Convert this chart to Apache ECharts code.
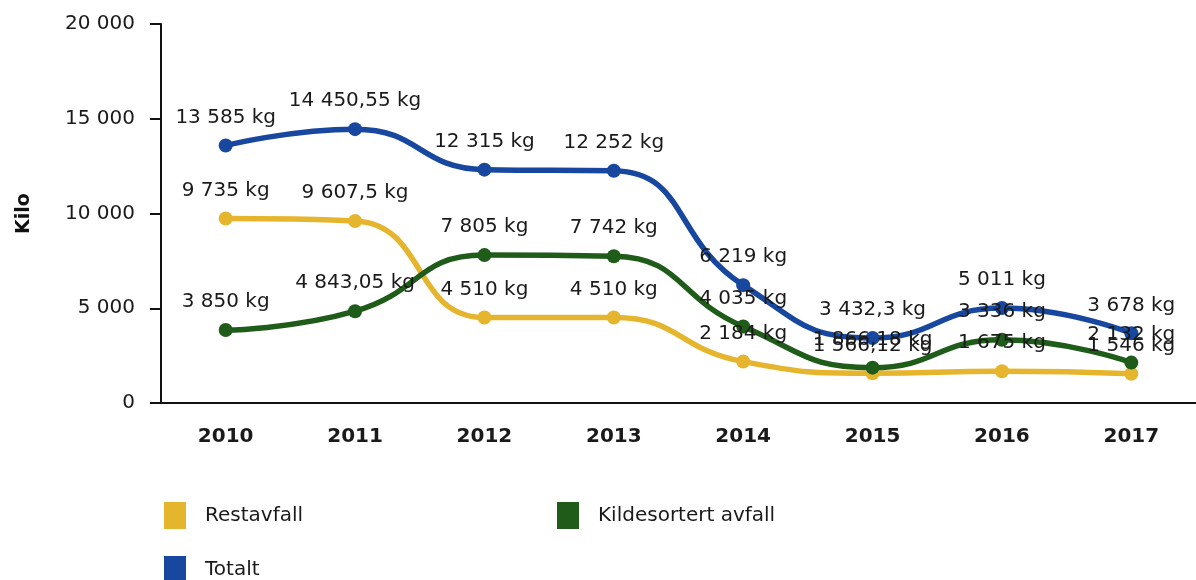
<!DOCTYPE html>
<html>
<head>
<meta charset="utf-8">
<script src="https://cdn.jsdelivr.net/npm/echarts@6/dist/echarts.min.js"></script>
<style>
  html, body { margin: 0; padding: 0; background: #fff; }
  #chart { width: 1196px; height: 580px; }
</style>
</head>
<body>
<div id="chart"></div>
<script>
// data
var years = ['2010', '2011', '2012', '2013', '2014', '2015', '2016', '2017'];
var restavfall = [9735, 9607.5, 4510, 4510, 2184, 1566.12, 1675, 1546];
var kildesortert = [3850, 4843.05, 7805, 7742, 4035, 1866.18, 3336, 2132];
var totalt = [13585, 14450.55, 12315, 12252, 6219, 3432.3, 5011, 3678];

var FONT = '"DejaVu Sans", Verdana, sans-serif';

// 14450.55 -> "14 450,55"
function fmt(v) {
  var parts = String(v).split('.');
  var int = parts[0].replace(/\B(?=(\d{3})+(?!\d))/g, ' ');
  return parts.length > 1 ? int + ',' + parts[1] : int;
}

function lineSeries(name, data, color) {
  return {
    name: name,
    type: 'line',
    data: data,
    smooth: 0.5,
    symbol: 'circle',
    symbolSize: 14,
    lineStyle: { width: 5.5, color: color },
    itemStyle: { color: color },
    label: {
      show: true,
      position: 'top',
      distance: 11,
      fontFamily: FONT,
      fontSize: 20,
      color: '#1a1a1a',
      formatter: function (p) { return fmt(p.value) + ' kg'; }
    }
  };
}

var chart = echarts.init(document.getElementById('chart'));
var legendStyle = {
  icon: 'rect',
  itemWidth: 22,
  itemHeight: 27,
  textStyle: { fontFamily: FONT, fontSize: 20, color: '#1a1a1a', padding: [0, 0, 0, 14] }
};

chart.setOption({
  animation: false,
  backgroundColor: '#fff',
  grid: { left: 161, right: 0, top: 24, bottom: 177 },
  legend: [
    Object.assign({ data: ['Restavfall'], left: 159, top: 497 }, legendStyle),
    Object.assign({ data: ['Kildesortert avfall'], left: 552, top: 497 }, legendStyle),
    Object.assign({ data: ['Totalt'], left: 159, top: 551 }, legendStyle)
  ],
  xAxis: {
    type: 'category',
    data: years,
    boundaryGap: true,
    axisLine: { lineStyle: { color: '#111', width: 2 } },
    axisTick: { alignWithLabel: true, length: 5, lineStyle: { color: '#999' } },
    axisLabel: {
      margin: 24,
      fontFamily: FONT,
      fontSize: 20,
      fontWeight: 'bold',
      color: '#1a1a1a'
    }
  },
  yAxis: {
    type: 'value',
    min: 0,
    max: 20000,
    interval: 5000,
    name: 'Kilo',
    nameLocation: 'middle',
    nameGap: 127,
    nameTextStyle: { fontFamily: FONT, fontSize: 19, fontWeight: 'bold', color: '#111' },
    axisLine: { show: true, lineStyle: { color: '#111', width: 2 } },
    axisTick: { show: true, length: 11, lineStyle: { color: '#111', width: 2 } },
    splitLine: { show: false },
    axisLabel: {
      margin: 26,
      fontFamily: FONT,
      fontSize: 20,
      color: '#1a1a1a',
      formatter: function (v) { return fmt(v); }
    }
  },
  series: [
    lineSeries('Restavfall', restavfall, '#e6b52e'),
    lineSeries('Kildesortert avfall', kildesortert, '#1f5c1a'),
    lineSeries('Totalt', totalt, '#17479e')
  ]
});
</script>
</body>
</html>
